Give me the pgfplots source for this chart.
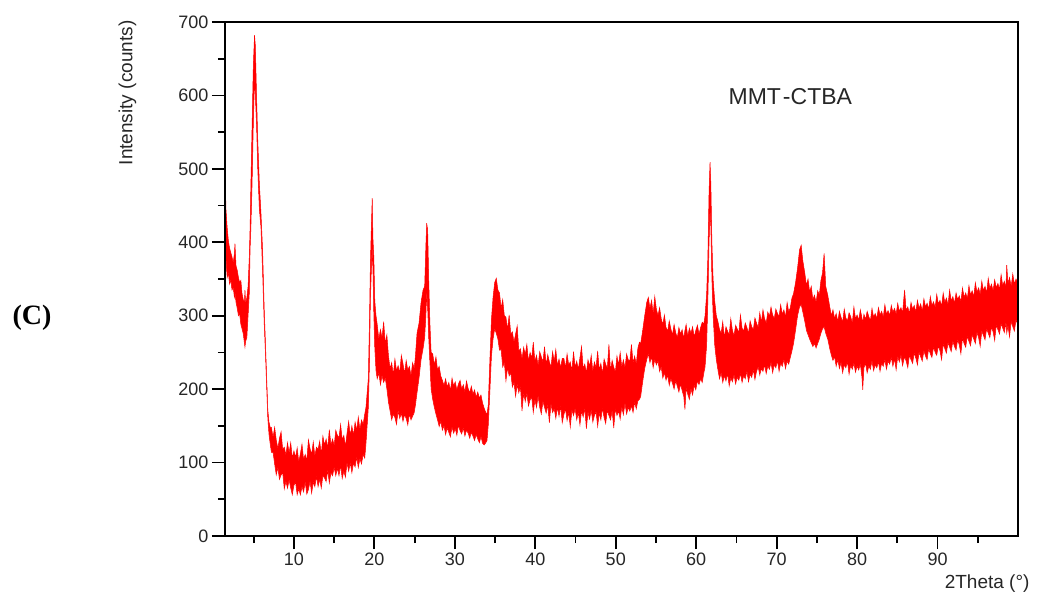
\documentclass[border=0pt]{standalone}
\usepackage{pgfplots}
\pgfplotsset{compat=1.18}
\usepackage{pgfplotstable}
\usepackage{fontspec}
\setmainfont{Liberation Sans}
\newfontfamily\serifb{Liberation Serif}

\pgfplotstableread{
x lo hi
1.43 430 498
1.55 375 445
1.70 352 420
1.85 358 402
2.00 343 392
2.15 348 386
2.30 335 380
2.45 338 372
2.60 325 385
2.67 330 398
2.80 318 368
2.95 310 362
3.10 300 352
3.25 302 345
3.40 288 348
3.55 282 330
3.70 275 322
3.85 262 318
3.91 257 335
4.00 265 316
4.15 270 325
4.30 300 340
4.45 330 380
4.55 390 420
4.65 420 480
4.80 480 560
4.95 560 640
5.10 620 682
5.20 600 668
5.35 560 600
5.50 500 540
5.70 445 480
5.90 420 440
6.10 360 390
6.30 290 310
6.45 250 265
6.60 205 218
6.75 160 172
6.90 138 155
7.05 125 148
7.20 114 148
7.40 114 134
7.60 98 148
7.80 83 131
8.00 93 119
8.20 77 133
8.40 83 142
8.60 86 118
8.80 64 121
9.00 74 110
9.20 65 127
9.40 76 113
9.60 65 127
9.80 56 106
10.00 69 116
10.20 73 107
10.40 56 120
10.60 64 101
10.80 56 112
11.00 67 125
11.20 60 104
11.40 73 111
11.60 57 103
11.80 63 131
12.00 74 119
12.20 58 111
12.40 73 128
12.60 67 109
12.80 81 121
13.00 67 118
13.20 77 129
13.40 65 111
13.60 82 136
13.80 79 124
14.00 74 132
14.20 89 120
14.40 72 145
14.60 86 124
14.80 82 132
15.00 93 123
15.20 82 144
15.40 92 137
15.60 82 134
15.80 96 152
16.00 78 131
16.20 88 137
16.40 80 122
16.60 99 140
16.80 88 156
17.00 99 137
17.20 86 150
17.40 99 137
17.60 94 155
17.80 107 144
18.00 93 162
18.20 105 145
18.40 98 158
18.60 111 152
18.80 106 166
18.95 125 175
19.10 150 195
19.25 175 215
19.40 240 300
19.50 320 370
19.62 360 420
19.73 390 460
19.82 360 405
19.93 300 380
20.05 255 320
20.20 225 300
20.35 214 288
20.55 222 268
20.75 206 281
20.95 218 270
21.15 209 292
21.35 215 262
21.55 200 274
21.75 182 245
21.95 170 228
22.15 158 236
22.35 166 219
22.55 161 241
22.75 152 225
22.95 170 232
23.15 160 222
23.35 167 246
23.55 156 235
23.75 165 221
23.95 160 239
24.15 151 226
24.35 166 231
24.55 158 218
24.75 163 236
24.95 168 228
25.10 178 245
25.30 195 276
25.55 215 290
25.80 240 318
26.05 255 335
26.25 270 340
26.40 300 395
26.50 330 426
26.62 310 417
26.75 270 350
26.90 235 290
27.05 200 250
27.25 186 248
27.45 175 233
27.65 166 244
27.85 158 226
28.05 149 231
28.25 156 218
28.45 144 212
28.65 150 205
28.85 138 214
29.05 147 203
29.25 141 209
29.45 135 198
29.65 148 215
29.85 140 204
30.05 146 210
30.25 137 199
30.45 151 207
30.65 143 212
30.85 139 200
31.05 147 206
31.25 136 196
31.45 144 211
31.65 140 201
31.85 133 195
32.05 141 204
32.25 136 193
32.45 130 199
32.65 138 189
32.85 132 196
33.05 127 188
33.25 135 192
33.45 126 181
33.65 124 174
33.85 127 168
34.00 130 166
34.15 150 178
34.35 195 238
34.55 245 295
34.75 268 325
34.95 282 345
35.15 276 351
35.35 268 335
35.55 253 331
35.75 254 310
35.95 230 322
36.15 236 300
36.35 211 298
36.55 229 281
36.75 218 301
36.95 222 275
37.15 203 278
37.35 209 264
37.55 190 275
37.75 206 286
37.95 195 252
38.15 203 255
38.35 170 241
38.55 194 257
38.75 183 247
38.95 194 261
39.15 177 238
39.35 185 250
39.55 189 242
39.75 168 264
39.95 185 238
40.15 175 246
40.35 190 232
40.55 175 251
40.75 166 244
40.95 183 237
41.15 175 258
41.35 167 233
41.55 178 247
41.75 154 237
41.95 179 230
42.15 168 251
42.35 173 238
42.55 160 254
42.75 175 232
42.95 163 241
43.15 177 229
43.35 154 242
43.55 165 242
43.75 173 229
43.95 157 248
44.15 168 233
44.35 148 237
44.55 171 225
44.75 164 251
44.95 173 230
45.15 158 238
45.35 168 227
45.55 151 243
45.75 170 258
45.95 162 228
46.15 173 234
46.35 146 222
46.55 168 240
46.75 159 231
46.95 171 246
47.15 155 224
47.35 164 237
47.55 169 229
47.75 149 252
47.95 167 226
48.15 158 235
48.35 174 221
48.55 161 241
48.75 153 234
48.95 171 228
49.15 164 261
49.35 158 225
49.55 170 239
49.75 147 230
49.95 173 223
50.15 164 245
50.35 170 233
50.55 159 250
50.75 175 230
50.95 165 240
51.15 180 229
51.35 166 248
51.55 175 240
51.75 170 238
51.95 177 261
52.15 168 236
52.35 182 245
52.55 173 234
52.75 184 256
52.95 186 264
53.10 190 262
53.35 210 280
53.60 228 300
53.85 240 318
54.05 248 325
54.25 236 310
54.45 244 321
54.65 229 303
54.85 240 326
55.05 233 309
55.25 238 300
55.45 224 311
55.65 230 296
55.85 215 288
56.05 222 301
56.25 212 284
56.45 219 279
56.65 205 293
56.85 214 282
57.05 208 274
57.25 200 288
57.45 211 277
57.65 204 270
57.85 196 284
58.05 207 275
58.25 198 281
58.45 190 269
58.60 172 280
58.75 201 288
58.95 193 272
59.15 186 283
59.35 200 276
59.55 192 285
59.75 205 271
59.95 199 280
60.15 211 287
60.35 206 275
60.55 214 284
60.75 209 291
60.95 222 289
61.10 230 300
61.30 260 330
61.45 320 380
61.60 400 470
61.72 440 509
61.82 420 480
61.95 350 400
62.10 300 350
62.30 260 320
62.50 240 300
62.70 226 292
62.90 214 281
63.10 222 276
63.30 209 292
63.50 218 270
63.70 211 285
63.90 221 279
64.10 204 274
64.30 215 296
64.50 210 280
64.70 219 273
64.90 207 287
65.10 216 282
65.30 212 277
65.50 221 301
65.70 209 283
65.90 218 279
66.10 214 290
66.30 224 284
66.50 210 276
66.70 220 293
66.90 216 285
67.10 226 281
67.30 213 297
67.50 224 290
67.70 230 284
67.90 219 304
68.10 228 291
68.30 224 308
68.50 233 296
68.70 221 290
68.90 231 305
69.10 227 299
69.30 236 312
69.50 222 301
69.70 233 296
69.90 229 309
70.10 238 303
70.30 224 299
70.50 235 315
70.70 231 302
70.90 240 308
71.10 228 298
71.30 238 318
71.50 234 305
71.70 243 311
71.90 252 324
72.10 262 330
72.35 280 345
72.60 300 365
72.85 312 390
73.05 315 396
73.25 305 375
73.50 292 358
73.70 280 341
73.90 274 350
74.10 268 332
74.30 263 340
74.50 258 322
74.70 262 328
74.90 256 318
75.10 262 334
75.30 268 328
75.50 276 348
75.70 282 358
75.90 285 385
76.10 276 340
76.35 268 328
76.60 255 312
76.80 246 300
77.00 239 308
77.20 244 296
77.40 231 303
77.60 240 292
77.80 228 306
78.00 236 298
78.20 222 291
78.40 233 309
78.60 229 297
78.80 237 293
79.00 220 304
79.20 232 299
79.40 227 290
79.60 235 312
79.80 223 296
80.00 231 301
80.20 226 294
80.40 234 308
80.60 216 297
80.70 199 290
80.85 229 302
81.05 235 295
81.25 222 306
81.45 231 299
81.65 227 293
81.85 238 310
82.05 225 298
82.25 233 303
82.45 229 296
82.65 237 311
82.85 224 301
83.05 235 306
83.25 231 298
83.45 240 315
83.65 227 302
83.85 238 307
84.05 234 300
84.25 243 314
84.45 231 305
84.65 241 310
84.85 226 302
85.05 244 317
85.25 237 306
85.45 246 311
85.65 232 304
85.90 244 335
86.10 238 307
86.30 229 312
86.50 246 303
86.70 240 318
86.90 235 309
87.10 249 314
87.30 242 305
87.50 233 321
87.70 250 310
87.90 244 316
88.10 238 306
88.30 252 323
88.50 245 312
88.70 240 317
88.90 255 309
89.10 248 326
89.30 243 314
89.50 257 319
89.70 250 311
89.90 246 329
90.10 259 316
90.30 252 321
90.50 240 313
90.70 261 331
90.90 255 318
91.10 249 324
91.30 263 315
91.50 257 335
91.70 251 320
91.90 265 326
92.10 258 317
92.30 253 331
92.50 267 322
92.70 260 327
92.90 248 319
93.10 269 338
93.30 262 325
93.50 257 331
93.70 272 323
93.90 265 341
94.10 259 328
94.30 274 334
94.50 268 326
94.70 262 345
94.90 277 332
95.10 270 338
95.30 258 329
95.50 279 347
95.70 273 334
95.90 267 340
96.10 282 331
96.30 276 351
96.50 270 337
96.70 284 343
96.90 278 334
97.10 266 349
97.30 287 338
97.50 281 344
97.70 275 336
97.90 289 356
98.10 283 341
98.30 277 347
98.50 290 339
98.60 276 369
98.75 286 344
98.95 271 352
99.15 292 340
99.35 285 357
99.55 279 343
99.75 294 350
100.00 287 344
}\xrd

\begin{document}
\begin{tikzpicture}
\begin{axis}[
  at={(0,0)}, anchor=south west,
  scale only axis, width=793bp, height=514bp,
  xmin=1.43, xmax=100, ymin=0, ymax=700,
  axis on top,
  xtick={10,20,...,90}, minor xtick={5,15,...,95},
  ytick={0,100,...,700}, minor ytick={50,150,...,650},
  tick align=outside, tick pos=left,
  major tick length=13bp, minor tick length=7bp,
  axis line style={line width=1.8bp},
  every tick/.style={black, line width=1.8bp},
  /pgf/number format/assume math mode=true,
  ticklabel style={font=\fontsize{18bp}{20bp}\selectfont, text=black!85},
  xlabel={2Theta (°)}, ylabel={Intensity (counts)},
  label style={font=\fontsize{19bp}{22bp}\selectfont, text=black!85},
  xlabel style={at={(rel axis cs:1,0)}, anchor=east, xshift=15bp, yshift=-48bp},
  ylabel style={at={(rel axis cs:-0.123,0.862)}, anchor=center},
]
\addplot[draw=red, fill=red, line width=0.5bp] table[x=x,y=hi]{\xrd} \closedcycle;
\addplot[draw=none, fill=white] table[x=x,y=lo]{\xrd} \closedcycle;
\addplot[draw=red, line width=0.5bp] table[x=x,y=lo]{\xrd};
\node[font=\fontsize{23bp}{25bp}\selectfont, text=black!85] at (axis cs:71.7,599) {MMT\hspace{2bp}-CTBA};
\end{axis}
\node[font=\serifb\bfseries\fontsize{28bp}{30bp}\selectfont] at (-193bp,218bp) {(C)};
\path[use as bounding box] (-225bp,-62bp) rectangle (814bp,536bp);
\end{tikzpicture}
\end{document}
